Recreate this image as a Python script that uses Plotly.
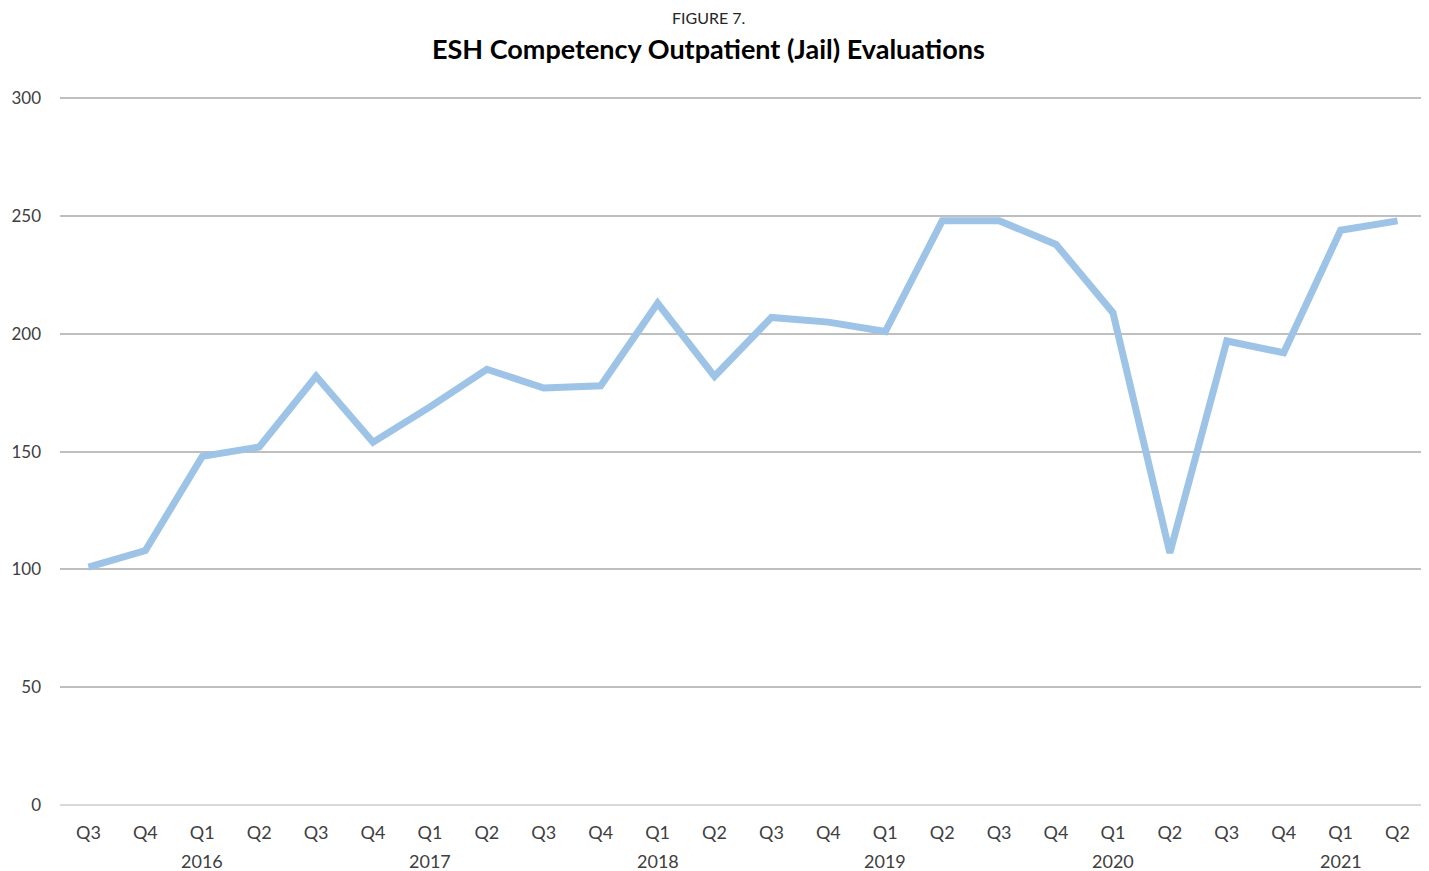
import plotly.graph_objects as go

quarters = ["Q3", "Q4", "Q1", "Q2", "Q3", "Q4", "Q1", "Q2", "Q3", "Q4", "Q1", "Q2",
            "Q3", "Q4", "Q1", "Q2", "Q3", "Q4", "Q1", "Q2", "Q3", "Q4", "Q1", "Q2"]
years = ["", "", "2016", "", "", "", "2017", "", "", "", "2018", "",
         "", "", "2019", "", "", "", "2020", "", "", "", "2021", ""]
evaluations = [101, 108, 148, 152, 182, 154, 169, 185, 177, 178, 213, 182,
               207, 205, 201, 248, 248, 238, 209, 107, 197, 192, 244, 248]
y_ticks = [0, 50, 100, 150, 200, 250, 300]

font_family = "Lato, 'Open Sans', sans-serif"
xs = list(range(len(evaluations)))

fig = go.Figure()
fig.add_trace(go.Scatter(
    x=xs, y=evaluations, mode="lines",
    line=dict(color="#9DC3E6", width=7),
    hoverinfo="y", showlegend=False,
))

annotations = [
    dict(text="FIGURE 7.", x=0.475, y=1, xref="paper", yref="paper",
         xanchor="center", yanchor="middle", yshift=79, showarrow=False,
         font=dict(size=16, color="#262626", family=font_family)),
    dict(text="<b>ESH Competency Outpatient (Jail) Evaluations</b>", x=0.475, y=1,
         xref="paper", yref="paper", xanchor="center", yanchor="middle",
         yshift=48, showarrow=False,
         font=dict(size=27, color="black", family=font_family)),
]
for i, yr in enumerate(years):
    if yr:
        annotations.append(dict(
            x=i, y=0, xref="x", yref="paper", text=yr, showarrow=False,
            xanchor="center", yanchor="middle", yshift=-56,
            font=dict(size=18, color="#404040", family=font_family),
        ))

fig.update_layout(
    width=1421, height=863,
    margin=dict(l=52, r=3, t=88, b=66),
    paper_bgcolor="white", plot_bgcolor="white",
    font=dict(family=font_family, color="#404040", size=17),
    annotations=annotations,
    xaxis=dict(
        tickmode="array", tickvals=xs, ticktext=quarters,
        range=[-0.5, len(xs) - 0.5],
        showgrid=False, zeroline=False, showline=False, ticks="",
        tickfont=dict(size=18, color="#404040"),
        ticklabelstandoff=15,
    ),
    yaxis=dict(
        tickmode="array", tickvals=y_ticks,
        range=[0, 301],
        showgrid=True, gridcolor="#BFBFBF", gridwidth=2,
        zeroline=True, zerolinecolor="#D9D9D9", zerolinewidth=2,
        showline=False, ticks="",
        tickfont=dict(size=17, color="#404040"),
        ticklabelstandoff=18,
    ),
)

fig.write_html("out.html")
